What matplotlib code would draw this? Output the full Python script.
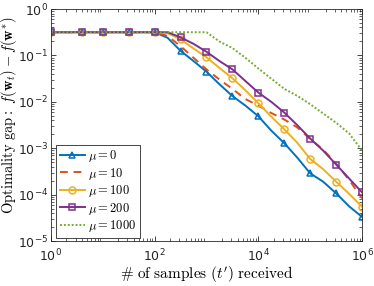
import numpy as np
import matplotlib
matplotlib.use("Agg")
import matplotlib.pyplot as plt
from matplotlib.ticker import LogLocator, NullFormatter

plt.rcParams['mathtext.fontset'] = 'cm'
plt.rcParams['font.family'] = ['DejaVu Sans']

# x positions (log10 of samples received)
log_t = [0, 0.6, 1, 1.5, 2, 2.25, 2.5, 2.75, 3, 3.25, 3.5, 3.75, 4, 4.25,
         4.5, 4.75, 5, 5.25, 5.5, 5.75, 6]
# log10 of optimality gap per series
gap_mu0 = [-0.5, -0.5, -0.5, -0.5, -0.5, -0.62, -0.90, -1.12, -1.35, -1.62,
           -1.875, -2.08, -2.31, -2.62, -2.89, -3.20, -3.54, -3.72, -3.97, -4.25, -4.48]
gap_mu10 = [-0.5, -0.5, -0.5, -0.5, -0.5, -0.58, -0.80, -1.05, -1.30, -1.52,
            -1.72, -1.94, -2.08, -2.24, -2.38, -2.55, -2.80, -3.03, -3.33, -3.68, -4.08]
gap_mu100 = [-0.5, -0.5, -0.5, -0.5, -0.5, -0.52, -0.65, -0.85, -1.04, -1.27,
             -1.49, -1.75, -2.03, -2.32, -2.59, -2.88, -3.23, -3.45, -3.72, -3.98, -4.26]
gap_mu200 = [-0.5, -0.5, -0.5, -0.5, -0.5, -0.5, -0.61, -0.75, -0.92, -1.12,
             -1.30, -1.55, -1.80, -2.00, -2.23, -2.50, -2.79, -3.05, -3.35, -3.65, -3.95]
gap_mu1000 = [-0.5, -0.5, -0.5, -0.5, -0.5, -0.5, -0.5, -0.5, -0.5, -0.70,
              -0.84, -1.05, -1.28, -1.50, -1.72, -1.87, -2.05, -2.25, -2.45, -2.68, -3.05]
labels = [r'$\mu = 0$', r'$\mu = 10$', r'$\mu = 100$', r'$\mu = 200$', r'$\mu = 1000$']

marker_idx = [0, 1, 2, 3, 4, 6, 8, 10, 12, 14, 16, 18, 20]

t = 10.0 ** np.array(log_t)

fig = plt.figure(figsize=(3.74, 2.86), dpi=100)
ax = fig.add_axes([0.136, 0.157, 0.832, 0.8115])

colors = ['#0072BD', '#D95319', '#EDB120', '#7E2F8E', '#77AC30']
series = [gap_mu0, gap_mu10, gap_mu100, gap_mu200, gap_mu1000]
styles = [dict(ls='-', marker='^'), dict(ls=(0, (4, 3)), marker=None),
          dict(ls='-', marker='o'), dict(ls='-', marker='s'),
          dict(ls=(0, (1, 1)), marker=None)]

for s, c, st, lab in zip(series, colors, styles, labels):
    y = 10.0 ** np.array(s)
    kw = dict(color=c, lw=1.4, ls=st['ls'], label=lab)
    if st['marker']:
        kw.update(marker=st['marker'], markevery=marker_idx, ms=5,
                  mfc='none', mec=c, mew=1.1)
    ax.plot(t, y, **kw)

ax.set_xscale('log')
ax.set_yscale('log')
ax.set_xlim(1, 1e6)
ax.set_ylim(1e-5, 1)
ax.set_xticks([1, 1e2, 1e4, 1e6])
ax.set_yticks([1e-5, 1e-4, 1e-3, 1e-2, 1e-1, 1])
ax.xaxis.set_minor_locator(LogLocator(base=10, subs=np.arange(2, 10), numticks=20))
ax.yaxis.set_minor_locator(LogLocator(base=10, subs=np.arange(2, 10), numticks=20))
ax.xaxis.set_minor_formatter(NullFormatter())
ax.yaxis.set_minor_formatter(NullFormatter())
ax.tick_params(which='both', direction='in', top=True, right=True, labelsize=9,
               color='#262626', labelcolor='#262626')
ax.tick_params(axis='y', which='major', pad=2)
ax.tick_params(axis='x', which='major', pad=5)
ax.tick_params(which='major', length=3.5, width=0.6)
ax.tick_params(which='minor', length=2, width=0.5)
for sp in ax.spines.values():
    sp.set_linewidth(0.6)
    sp.set_color('#262626')

ax.set_xlabel(r'$\#\ \mathrm{of\ samples}\ (t^{\prime})\ \mathrm{received}$', fontsize=11, labelpad=0)
ax.set_ylabel(r'$\mathrm{Optimality\ gap:}\ f(\mathbf{w}_t) - f(\mathbf{w}^{*})$', fontsize=10.5)
ax.yaxis.set_label_coords(-0.104, 0.54)

leg = ax.legend(loc='lower left', bbox_to_anchor=(0.016, 0.013), borderaxespad=0,
                fontsize=9, fancybox=False, framealpha=1, edgecolor='#262626',
                handlelength=2.0, handletextpad=0.3, labelspacing=0.12, borderpad=0.3)
leg.get_frame().set_linewidth(0.6)

fig.savefig('out.png', dpi=100)
